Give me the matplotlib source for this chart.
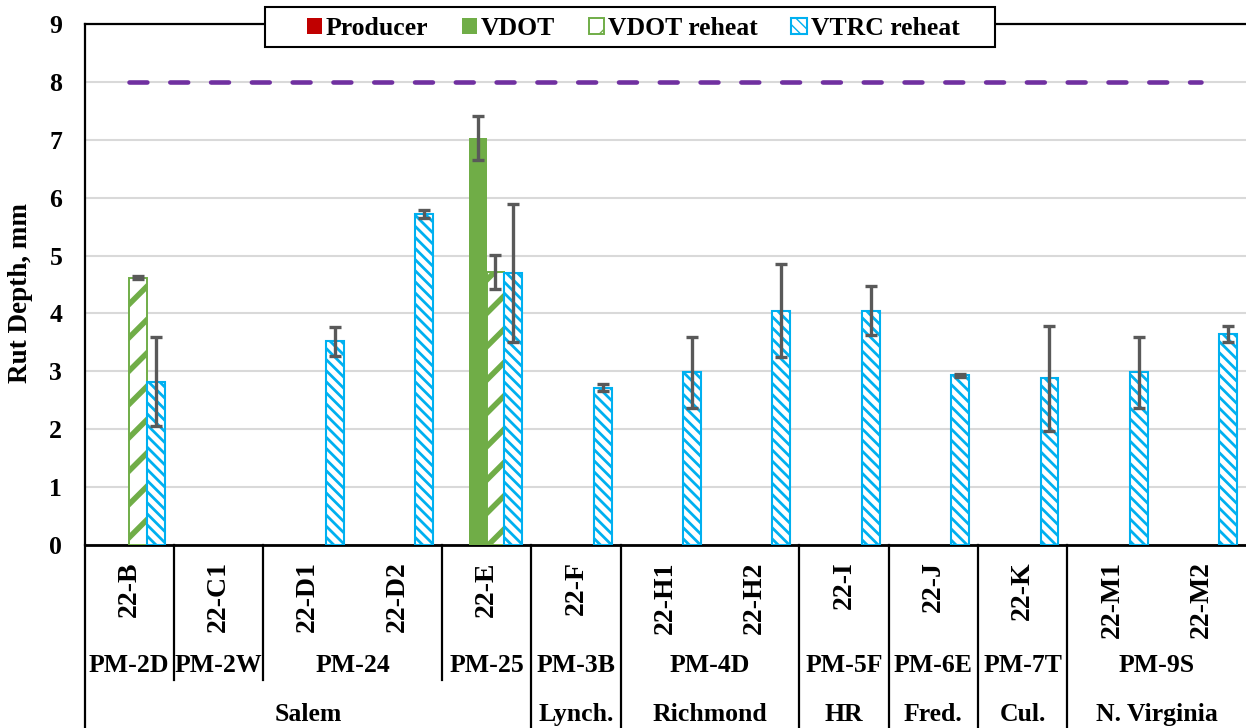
import numpy as np
import matplotlib
matplotlib.use('Agg')
import matplotlib.pyplot as plt
from matplotlib.patches import Rectangle

nan = np.nan

# rut depth data (mm)
samples = ['22-B', '22-C1', '22-D1', '22-D2', '22-E', '22-F', '22-H1',
           '22-H2', '22-I', '22-J', '22-K', '22-M1', '22-M2']
producer = [nan] * 13
vdot = [nan, nan, nan, nan, 7.03, nan, nan, nan, nan, nan, nan, nan, nan]
vdot_err = [nan, nan, nan, nan, 0.38, nan, nan, nan, nan, nan, nan, nan, nan]
vdot_reheat = [4.62, nan, nan, nan, 4.72, nan, nan, nan, nan, nan, nan, nan, nan]
vdot_reheat_err = [0.03, nan, nan, nan, 0.29, nan, nan, nan, nan, nan, nan, nan, nan]
vtrc_reheat = [2.82, nan, 3.52, 5.72, 4.70, 2.72, 2.98, 4.05, 4.05, 2.93, 2.88, 2.98, 3.65]
vtrc_reheat_err = [0.77, nan, 0.25, 0.07, 1.19, 0.06, 0.61, 0.80, 0.43, 0.02, 0.91, 0.61, 0.14]
limit = 8

# label groups: (name, first index, last index)
mixes = [('PM-2D', 0, 0), ('PM-2W', 1, 1), ('PM-24', 2, 3), ('PM-25', 4, 4),
         ('PM-3B', 5, 5), ('PM-4D', 6, 7), ('PM-5F', 8, 8), ('PM-6E', 9, 9),
         ('PM-7T', 10, 10), ('PM-9S', 11, 12)]
districts = [('Salem', 0, 4), ('Lynch.', 5, 5), ('Richmond', 6, 7), ('HR', 8, 8),
             ('Fred.', 9, 9), ('Cul.', 10, 10), ('N. Virginia', 11, 12)]

plt.rcParams['font.family'] = ['Liberation Serif', 'DejaVu Serif']
plt.rcParams['font.weight'] = 'bold'

RED = '#C00000'
GREEN = '#70AD47'
BLUE = '#00B0F0'
PURPLE = '#7030A0'
ERR = '#595959'

fig = plt.figure(figsize=(12.46, 7.28), dpi=100)
ax = fig.add_axes([84.5 / 1246, 1 - 545 / 728, 1 - 84.5 / 1246, 521 / 728])

x = np.arange(len(samples))
w = 0.2

ax.bar(x - 0.3, producer, w, color=RED, label='Producer', zorder=3)
ax.bar(x - 0.1, vdot, w, color=GREEN, label='VDOT', zorder=3)
with plt.rc_context({'hatch.linewidth': 4.0}):
    ax.bar(x + 0.1, vdot_reheat, w, color='white', edgecolor=GREEN, hatch='/',
           linewidth=1.4, label='VDOT reheat', zorder=3)
with plt.rc_context({'hatch.linewidth': 2.0}):
    ax.bar(x + 0.3, vtrc_reheat, w, color='white', edgecolor=BLUE, hatch='\\\\\\',
           linewidth=1.5, label='VTRC reheat', zorder=3)

for off, vals, errs in [(-0.1, vdot, vdot_err), (0.1, vdot_reheat, vdot_reheat_err),
                        (0.3, vtrc_reheat, vtrc_reheat_err)]:
    ax.errorbar(x + off, vals, yerr=errs, fmt='none', ecolor=ERR, elinewidth=2.4,
                capsize=4.5, capthick=2.4, zorder=4)

ax.plot(x, [limit] * len(x), color=PURPLE, lw=3.3, dashes=(3.9, 5.0),
        dash_capstyle='round', zorder=5)

ax.set_xlim(-0.5, len(samples) - 0.5)
ax.set_ylim(0, 9)
ax.set_yticks(range(10))
ax.tick_params(axis='y', length=0, pad=16, labelsize=18.5)
ax.set_xticks([])
ax.yaxis.grid(True, color='#d9d9d9', lw=1.5, zorder=0)
ax.set_axisbelow(True)
for s in ['left', 'bottom', 'top']:
    ax.spines[s].set_color('black')
    ax.spines[s].set_linewidth(1.6)
ax.spines['bottom'].set_linewidth(2)
ax.spines['right'].set_visible(False)

fig.text(21 / 1246, 1 - 293 / 728, 'Rut Depth, mm', rotation=90, ha='center',
         va='center', fontsize=19.5)

# multi level category axis
tr = ax.get_xaxis_transform()
for i, s in enumerate(samples):
    ax.text(i, -0.031, s, transform=tr, rotation=90, ha='center', va='top',
            fontsize=20)
for name, a, b in mixes:
    ax.text((a + b) / 2, -0.232, name, transform=tr, ha='center', va='center',
            fontsize=18.5)
for name, a, b in districts:
    ax.text((a + b) / 2, -0.325, name, transform=tr, ha='center', va='center',
            fontsize=18.5)

mix_edges = {a - 0.5 for _, a, _ in mixes[1:]}
dist_edges = {a - 0.5 for _, a, _ in districts[1:]} | {-0.5}
for e in sorted(mix_edges | dist_edges):
    bottom = -0.352 if e in dist_edges else -0.259
    ax.plot([e, e], [0, bottom], transform=tr, color='black', lw=1.6,
            clip_on=False)

# legend with a hand drawn box around it
fig.patches.append(Rectangle((265 / 1246, 1 - 47 / 728), 730 / 1246, 40 / 728,
                             transform=fig.transFigure, facecolor='white',
                             edgecolor='black', lw=1.5, zorder=10))
leg = fig.legend(loc='center', bbox_to_anchor=(633 / 1246, 1 - 28.5 / 728), ncol=4,
                 fontsize=18.5, frameon=False,
                 handlelength=0.6, handleheight=0.6, handletextpad=0.15,
                 columnspacing=1.3, borderpad=0, borderaxespad=0)
leg.set_zorder(11)

fig.savefig('out.png', dpi=100)
